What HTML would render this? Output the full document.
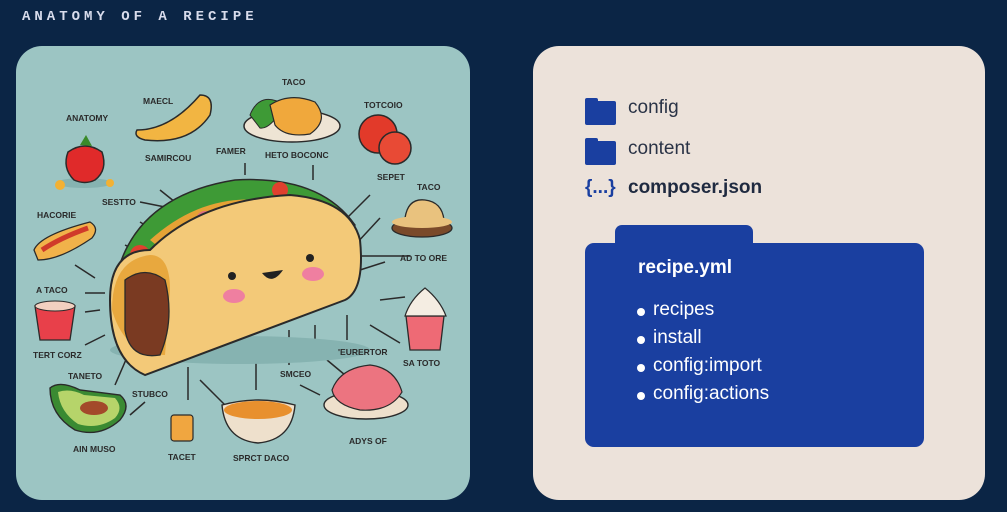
<!DOCTYPE html>
<html><head><meta charset="utf-8"><style>
html,body{margin:0;padding:0;width:1007px;height:512px;overflow:hidden;background:#0b2545;}
body{position:relative;font-family:"Liberation Sans",sans-serif;}
.title{position:absolute;left:22px;top:9px;color:#d8dcec;font-family:"Liberation Mono",monospace;font-weight:bold;font-size:14px;letter-spacing:4px;}
.lp{position:absolute;left:16px;top:46px;width:454px;height:454px;border-radius:26px;background:#9cc5c3;overflow:hidden;}
.rp{position:absolute;left:533px;top:46px;width:452px;height:454px;border-radius:26px;background:#ece2da;}
.fi{position:absolute;width:31px;height:24px;background:#1a3fa0;border-radius:2px;}
.fi:before{content:"";position:absolute;left:0;top:-3px;width:13px;height:5px;background:#1a3fa0;border-radius:2px 2px 0 0;}
.t{position:absolute;color:#2a3346;font-size:19px;}
.tab{position:absolute;left:615px;top:225px;width:138px;height:24px;background:#1a3fa0;border-radius:7px 7px 0 0;}
.fold{position:absolute;left:585px;top:243px;width:339px;height:204px;background:#1a3fa0;border-radius:9px;}
.w{position:absolute;color:#fff;font-size:19px;}
.b{position:absolute;width:8px;height:8px;border-radius:50%;background:#fff;}
</style></head><body>
<div class="title">ANATOMY OF A RECIPE</div>
<div class="lp">
<svg width="454" height="454" viewBox="16 46 454 454" xmlns="http://www.w3.org/2000/svg" font-family="Liberation Sans, sans-serif" font-size="8.5" font-weight="bold" fill="#2a2a2a">
<g stroke="#2a2a2a" stroke-width="1.5">
<line x1="185" y1="210" x2="160" y2="190"/><line x1="245" y1="163" x2="245" y2="175"/><line x1="313" y1="165" x2="313" y2="180"/>
<line x1="370" y1="195" x2="340" y2="225"/><line x1="380" y1="218" x2="355" y2="245"/><line x1="140" y1="202" x2="170" y2="208"/>
<line x1="140" y1="222" x2="163" y2="236"/><line x1="125" y1="245" x2="145" y2="255"/><line x1="360" y1="256" x2="410" y2="256"/>
<line x1="85" y1="293" x2="105" y2="293"/><line x1="85" y1="312" x2="100" y2="310"/><line x1="85" y1="345" x2="105" y2="335"/>
<line x1="380" y1="300" x2="405" y2="297"/><line x1="370" y1="325" x2="400" y2="343"/><line x1="360" y1="270" x2="385" y2="262"/>
<line x1="128" y1="355" x2="115" y2="385"/><line x1="188" y1="367" x2="188" y2="400"/><line x1="200" y1="380" x2="225" y2="405"/>
<line x1="256" y1="345" x2="256" y2="390"/><line x1="289" y1="330" x2="289" y2="365"/><line x1="315" y1="325" x2="315" y2="345"/>
<line x1="347" y1="315" x2="347" y2="340"/><line x1="327" y1="360" x2="345" y2="375"/><line x1="300" y1="385" x2="320" y2="395"/>
<line x1="145" y1="402" x2="130" y2="415"/><line x1="75" y1="265" x2="95" y2="278"/>
</g>
<ellipse cx="84" cy="183" rx="28" ry="5" fill="#86b3b1"/>
<path d="M68 152 Q85 140 102 152 Q108 170 95 180 Q85 185 74 180 Q62 168 68 152Z" fill="#e02a2a" stroke="#2a2a2a" stroke-width="1.5"/>
<path d="M80 145 L86 135 L92 146Z" fill="#3a8a2a"/>
<circle cx="60" cy="185" r="5" fill="#f2b133"/><circle cx="110" cy="183" r="4" fill="#f2b133"/>
<path d="M137 130 Q170 130 200 95 Q215 95 210 115 Q190 145 145 140 Q133 137 137 130Z" fill="#f2b542" stroke="#2a2a2a" stroke-width="1.5"/>
<ellipse cx="292" cy="126" rx="48" ry="16" fill="#eee4d4" stroke="#2a2a2a" stroke-width="1.5"/>
<path d="M250 115 Q260 90 285 105 Q270 130 260 128Z" fill="#3e9a36" stroke="#2a2a2a" stroke-width="1"/>
<path d="M270 105 Q290 92 315 102 Q330 120 310 134 Q285 138 275 125Z" fill="#f0a83c" stroke="#2a2a2a" stroke-width="1.2"/>
<circle cx="378" cy="134" r="19" fill="#e23a2a" stroke="#2a2a2a" stroke-width="1.5"/>
<circle cx="395" cy="148" r="16" fill="#e84a35" stroke="#2a2a2a" stroke-width="1.5"/>
<path d="M405 218 Q408 198 425 200 Q442 202 444 220Z" fill="#e9c27e" stroke="#2a2a2a" stroke-width="1.3"/>
<ellipse cx="422" cy="228" rx="30" ry="9" fill="#7a4a2a" stroke="#2a2a2a" stroke-width="1.3"/>
<ellipse cx="422" cy="222" rx="30" ry="6" fill="#e9c27e"/>
<path d="M34 250 Q40 235 90 222 Q100 228 92 238 Q60 260 38 260Z" fill="#f1b24a" stroke="#2a2a2a" stroke-width="1.3"/>
<path d="M42 250 Q60 238 88 228" stroke="#d03a2a" stroke-width="5" fill="none"/>
<path d="M35 306 L75 306 L70 340 L40 340Z" fill="#e8404a" stroke="#2a2a2a" stroke-width="1.3"/>
<ellipse cx="55" cy="306" rx="20" ry="5" fill="#f2d0c0" stroke="#2a2a2a"/>
<path d="M406 316 L444 316 L440 350 L410 350Z" fill="#ee6a75" stroke="#2a2a2a" stroke-width="1.3"/>
<path d="M405 316 Q410 300 425 288 Q440 300 446 316Z" fill="#f4ede2" stroke="#2a2a2a" stroke-width="1.2"/>
<path d="M50 388 Q60 380 80 390 L120 395 Q132 405 120 420 Q100 438 75 430 Q50 415 50 388Z" fill="#3a8a32" stroke="#2a2a2a" stroke-width="1.4"/>
<path d="M58 392 Q70 388 84 395 L115 398 Q124 408 115 418 Q98 430 78 424 Q60 412 58 392Z" fill="#b6d46a"/>
<ellipse cx="94" cy="408" rx="14" ry="7" fill="#a34a2a"/>
<rect x="171" y="415" width="22" height="26" rx="3" fill="#f0a640" stroke="#2a2a2a" stroke-width="1.2"/>
<path d="M222 405 Q258 395 295 405 Q292 440 258 443 Q225 440 222 405Z" fill="#eee0cc" stroke="#2a2a2a" stroke-width="1.4"/>
<ellipse cx="258" cy="410" rx="34" ry="9" fill="#e8902e"/>
<ellipse cx="366" cy="405" rx="42" ry="14" fill="#eee0cc" stroke="#2a2a2a" stroke-width="1.4"/>
<path d="M332 390 Q340 368 370 365 Q395 368 402 392 Q390 412 360 410 Q335 405 332 390Z" fill="#ec7480" stroke="#2a2a2a" stroke-width="1.2"/>
<ellipse cx="240" cy="350" rx="130" ry="14" fill="#86b3b1"/>
<path d="M118 270 Q140 195 235 180 Q320 175 355 225 L345 245 L130 300Z" fill="#3e9a36" stroke="#2a2a2a" stroke-width="1.5"/>
<path d="M150 240 Q200 195 260 200 L300 215 L200 280Z" fill="#e5a235"/>
<circle cx="140" cy="255" r="10" fill="#e0402e"/><circle cx="205" cy="220" r="9" fill="#e07080"/><circle cx="280" cy="190" r="8" fill="#e0402e"/>
<path d="M110 300 Q110 250 150 250 Q200 200 290 195 Q350 200 360 240 Q365 290 345 300 L145 375 Q110 360 110 300Z" fill="#f3c978" stroke="#2a2a2a" stroke-width="2"/>
<path d="M112 310 Q112 260 150 255 Q170 255 170 290 L165 355 Q125 355 112 310Z" fill="#e8a83e"/>
<path d="M125 280 Q145 265 165 280 Q175 320 160 355 Q130 360 125 330Z" fill="#7a3a22" stroke="#2a2a2a" stroke-width="1.3"/>
<circle cx="232" cy="276" r="4" fill="#222"/><circle cx="310" cy="258" r="4" fill="#222"/>
<path d="M262 273 Q272 286 283 270Z" fill="#222"/>
<ellipse cx="234" cy="296" rx="11" ry="7" fill="#ef7fa0"/><ellipse cx="313" cy="274" rx="11" ry="7" fill="#ef7fa0"/>
<text x="66" y="121">ANATOMY</text><text x="143" y="104">MAECL</text><text x="282" y="85">TACO</text><text x="364" y="108">TOTCOIO</text>
<text x="145" y="161">SAMIRCOU</text><text x="216" y="154">FAMER</text><text x="265" y="158">HETO BOCONC</text><text x="377" y="180">SEPET</text>
<text x="417" y="190">TACO</text><text x="102" y="205">SESTTO</text><text x="37" y="218">HACORIE</text><text x="400" y="261">AD TO ORE</text>
<text x="36" y="293">A TACO</text><text x="33" y="358">TERT CORZ</text><text x="403" y="366">SA TOTO</text><text x="68" y="379">TANETO</text>
<text x="338" y="355">'EURERTOR</text><text x="280" y="377">SMCEO</text><text x="132" y="397">STUBCO</text><text x="73" y="452">AIN MUSO</text>
<text x="168" y="460">TACET</text><text x="233" y="461">SPRCT DACO</text><text x="349" y="444">ADYS OF</text>
</svg>
</div>
<div class="rp"></div>
<div class="fi" style="left:585px;top:101px"></div><div class="t" style="left:628px;top:97px">config</div>
<div class="fi" style="left:585px;top:141px"></div><div class="t" style="left:628px;top:138px">content</div>
<div class="t" style="left:585px;top:177px;color:#1a3fa0;font-weight:bold;font-size:19px">{...}</div>
<div class="t" style="left:628px;top:177px;font-weight:bold;color:#1f2a40">composer.json</div>
<div class="tab"></div><div class="fold"></div>
<div class="w" style="left:638px;top:257px;font-weight:bold">recipe.yml</div>
<div class="b" style="left:637px;top:308px"></div><div class="w" style="left:653px;top:299px">recipes</div>
<div class="b" style="left:637px;top:336px"></div><div class="w" style="left:653px;top:327px">install</div>
<div class="b" style="left:637px;top:364px"></div><div class="w" style="left:653px;top:355px">config:import</div>
<div class="b" style="left:637px;top:392px"></div><div class="w" style="left:653px;top:383px">config:actions</div>
</body></html>
